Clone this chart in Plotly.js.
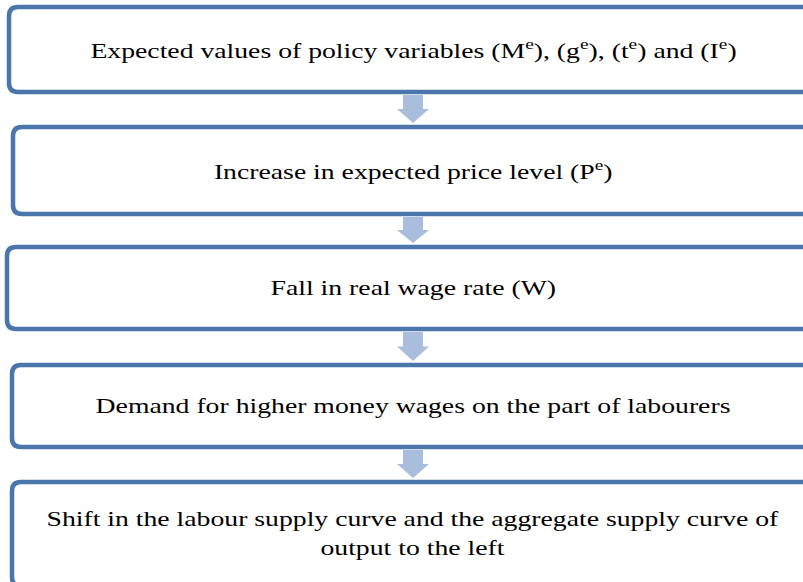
<!DOCTYPE html>
<html>
<head>
<meta charset="utf-8">
<script src="https://cdn.plot.ly/plotly-3.0.1.min.js"></script>
<style>
html,body{margin:0;padding:0;background:#fff;}
#chart{width:803px;height:582px;}
#chart text.annotation-text{transform-box:fill-box;transform-origin:center;transform:scaleX(1.26);}
</style>
</head>
<body>
<div id="chart"></div>
<script>
// Flowchart steps (top to bottom)
var stepLabels = [
  "Expected values of policy variables (M<sup>e</sup>), (g<sup>e</sup>), (t<sup>e</sup>) and (I<sup>e</sup>)",
  "Increase in expected price level (P<sup>e</sup>)",
  "Fall in real wage rate (W)",
  "Demand for higher money wages on the part of labourers",
  "Shift in the labour supply curve and the aggregate supply curve of<br>output to the left"
];

// layout constants
var W = 803, H = 582;
var boxLeft = [9, 13, 7, 12, 12];
var boxTop = [7, 127, 247, 365, 482];
var boxHeight = [85, 87, 82, 82, 104];
var boxRight = 818;
var radius = 9;
var centerX = 413;
var borderColor = "#4A76AC";
var arrowColor = "#A9BEDC";

function roundRect(x0, y0, x1, y1, r) {
  return "M" + (x0 + r) + "," + y0 +
    " L" + (x1 - r) + "," + y0 +
    " Q" + x1 + "," + y0 + " " + x1 + "," + (y0 + r) +
    " L" + x1 + "," + (y1 - r) +
    " Q" + x1 + "," + y1 + " " + (x1 - r) + "," + y1 +
    " L" + (x0 + r) + "," + y1 +
    " Q" + x0 + "," + y1 + " " + x0 + "," + (y1 - r) +
    " L" + x0 + "," + (y0 + r) +
    " Q" + x0 + "," + y0 + " " + (x0 + r) + "," + y0 + " Z";
}

function arrowPath(cx, yTop, yBot) {
  var shaftHalf = 10, headHalf = 16;
  var headStart = yTop + (yBot - yTop) * 0.5;
  return "M" + (cx - shaftHalf) + "," + yTop +
    " L" + (cx + shaftHalf) + "," + yTop +
    " L" + (cx + shaftHalf) + "," + headStart +
    " L" + (cx + headHalf) + "," + headStart +
    " L" + cx + "," + yBot +
    " L" + (cx - headHalf) + "," + headStart +
    " L" + (cx - shaftHalf) + "," + headStart + " Z";
}

var shapes = [];
var annotations = [];
for (var i = 0; i < stepLabels.length; i++) {
  var y0 = boxTop[i], y1 = boxTop[i] + boxHeight[i];
  shapes.push({
    type: "path", xref: "x", yref: "y",
    path: roundRect(boxLeft[i], y0, boxRight, y1, radius),
    line: {color: borderColor, width: 4.5},
    fillcolor: "#ffffff", layer: "above"
  });
  var cy = (i === stepLabels.length - 1) ? 533 : (y0 + y1) / 2 - 1;
  annotations.push({
    x: centerX, y: cy, xref: "x", yref: "y",
    text: stepLabels[i], showarrow: false,
    xanchor: "center", yanchor: "middle", align: "center",
    font: {family: "Liberation Serif", size: 22, color: "#000"}
  });
  if (i < stepLabels.length - 1) {
    var aTop = y1 + 3, aBot = boxTop[i + 1] - 4;
    shapes.push({
      type: "path", xref: "x", yref: "y",
      path: arrowPath(centerX, aTop, aBot),
      line: {width: 0}, fillcolor: arrowColor, layer: "above"
    });
  }
}

var layout = {
  width: W, height: H,
  margin: {l: 0, r: 0, t: 0, b: 0},
  paper_bgcolor: "#fff", plot_bgcolor: "#fff",
  xaxis: {range: [0, W], visible: false, fixedrange: true},
  yaxis: {range: [H, 0], visible: false, fixedrange: true},
  shapes: shapes,
  annotations: annotations,
  showlegend: false
};

Plotly.newPlot("chart", [], layout, {staticPlot: true, displayModeBar: false});
</script>
</body>
</html>
